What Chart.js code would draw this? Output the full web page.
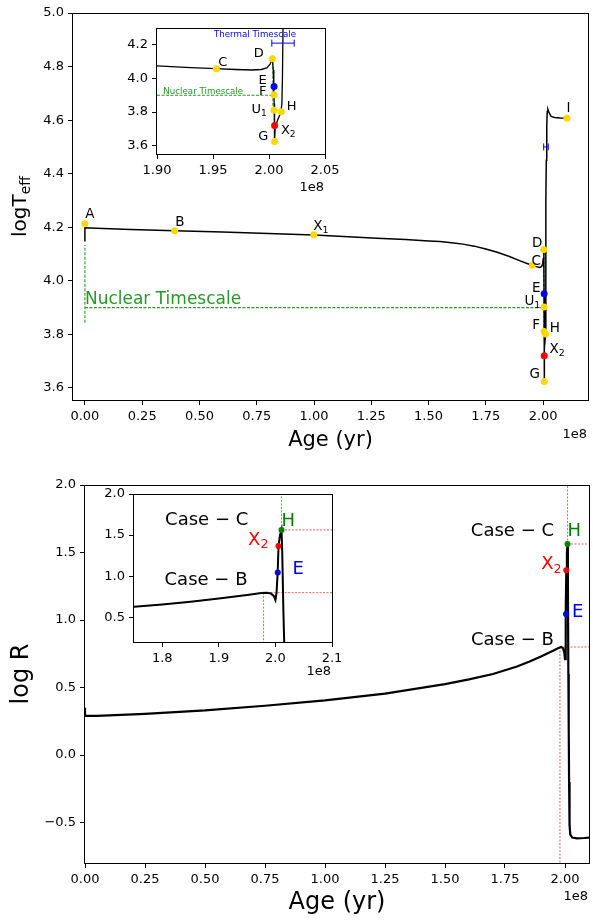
<!DOCTYPE html>
<html>
<head>
<meta charset="utf-8">
<script src="https://cdn.jsdelivr.net/npm/chart.js@4.4.0/dist/chart.umd.min.js"></script>
<style>
  html, body { margin: 0; padding: 0; background: #fff; }
  #wrap { position: relative; width: 593px; height: 920px; }
  #wrap canvas { position: absolute; left: 0; top: 0; }
</style>
</head>
<body>
<div id="wrap">
  <canvas id="teffMain" width="593" height="920"></canvas>
  <canvas id="teffInset" width="593" height="920"></canvas>
  <canvas id="radMain" width="593" height="920"></canvas>
  <canvas id="radInset" width="593" height="920"></canvas>
</div>
<script>
// ages are in units of 1e8 yr (the axis offset)
const trackAge = [0, 0, 0.05, 0.2, 0.392, 0.6, 0.8, 1.0, 1.15, 1.275, 1.4, 1.45, 1.5, 1.55, 1.6, 1.65, 1.7, 1.75, 1.8, 1.85,
  1.9, 1.93, 1.953, 1.97, 1.985, 1.993, 1.998, 2.001, 2.003, 2.0038, 2.0043, 2.0046, 2.0049, 2.005,
  2.0055, 2.0075, 2.0105, 2.0115, 2.012, 2.0125, 2.014, 2.016, 2.018, 2.021, 2.026, 2.035, 2.05, 2.075, 2.104];
const trackLogTeff = [4.147, 4.198, 4.196, 4.192, 4.187, 4.182, 4.177, 4.171, 4.165, 4.159, 4.154, 4.1515, 4.149, 4.1465, 4.1425, 4.137, 4.1295, 4.119, 4.1065, 4.0915,
  4.0745, 4.0645, 4.058, 4.053, 4.050, 4.053, 4.063, 4.085, 4.115, 4.05, 3.95, 3.85, 3.72, 3.624,
  3.70, 3.75, 3.795, 3.85, 4.0, 4.3, 4.45, 4.58, 4.632, 4.64, 4.628, 4.614, 4.610, 4.608, 4.607];

const radAge = [0, 0, 0.05, 0.25, 0.5, 0.75, 1.0, 1.25, 1.5, 1.6, 1.7, 1.75, 1.8, 1.85, 1.9, 1.95, 1.975, 1.985,
  1.992, 1.997, 2.0, 2.002, 2.004, 2.0055, 2.008, 2.0107, 2.012, 2.014, 2.0155, 2.017, 2.019, 2.022,
  2.03, 2.05, 2.08, 2.11];
const radLogR = [0.35, 0.29, 0.29, 0.305, 0.33, 0.365, 0.405, 0.455, 0.525, 0.56, 0.60, 0.628, 0.656, 0.69, 0.73, 0.772, 0.795, 0.80,
  0.79, 0.76, 0.71, 0.80, 1.05, 1.37, 1.50, 1.563, 1.3, 0.6, 0.2, -0.2, -0.52, -0.59,
  -0.612, -0.618, -0.615, -0.61];

// marked stages on the Teff track: A B X1 C D E U1 F H X2 G I
const stageAge = [0, 0.392, 0.999, 1.953, 2.003, 2.0045, 2.0045, 2.0045, 2.011, 2.005, 2.005, 2.104];
const stageLogTeff = [4.213, 4.187, 4.172, 4.058, 4.117, 3.952, 3.902, 3.811, 3.801, 3.720, 3.624, 4.607];
const stageColor = ['gold', 'gold', 'gold', 'gold', 'gold', 'blue', 'gold', 'gold', 'gold', 'red', 'gold', 'gold'];

// marked stages on the radius track: E X2 H
const radStageAge = [2.0041, 2.0053, 2.0107];
const radStageLogR = [1.044, 1.368, 1.563];
const radStageColor = ['blue', 'red', 'green'];

// mass transfer cases (onset age, log R)
const caseBAge = 1.979, caseBLogR = 0.80;
const caseCAge = 2.0107, caseCLogR = 1.563;

// nuclear and thermal timescale markers
const nucLogTeff = 3.90, nucStart = 0, nucEnd = 2.0035;
const nucStartBar = [3.843, 4.134], nucEndBar = [3.81, 4.12];
const thermAge = 2.0125, thermHalf = 0.01;
const thermLogTeffMain = 4.50, thermLogTeffInset = 4.21;

const xTicksTop = [0, 0.25, 0.5, 0.75, 1.0, 1.25, 1.5, 1.75, 2.0];
const yTicksTop = [3.6, 3.8, 4.0, 4.2, 4.4, 4.6, 4.8, 5.0];
const xTicksTopInset = [1.90, 1.95, 2.00, 2.05];
const yTicksTopInset = [3.6, 3.8, 4.0, 4.2];
const yTicksRad = [-0.5, 0, 0.5, 1.0, 1.5, 2.0];
const xTicksRadInset = [1.8, 1.9, 2.0, 2.1];
const yTicksRadInset = [0.5, 1.0, 1.5, 2.0];

const W = 593, H = 920;
const FAM = "'DejaVu Sans'";
const NUC_GREEN = '#2b962b';
const CASE_RED = '#ff5a5a';
Chart.defaults.font.family = 'DejaVu Sans';

const pts = (xs, ys) => xs.map((x, i) => ({ x, y: ys[i] }));
const fix = d => v => (v < 0 ? '\u2212' : '') + Math.abs(v).toFixed(d);

function curve(data, color, width, dash) {
  return { data, showLine: true, borderColor: color, backgroundColor: color, borderWidth: width,
    borderDash: dash || [], pointRadius: 0, tension: 0 };
}
function markers(data, colors, r) {
  return { data, showLine: false, pointRadius: r, pointBackgroundColor: colors,
    pointBorderColor: colors, pointBorderWidth: 0 };
}
function errorBar(x, half, y, color) {
  return [
    { data: [{ x: x - half, y }, { x: x + half, y }], showLine: false, pointStyle: 'line', rotation: 90,
      pointRadius: 3.5, pointBorderColor: color, pointBorderWidth: 1 },
    curve([{ x: x - half, y }, { x: x + half, y }], color, 1)
  ];
}
function nuclearLines(xMin) {
  const d = [3, 1.5];
  return [
    curve([{ x: Math.max(nucStart, xMin), y: nucLogTeff }, { x: nucEnd, y: nucLogTeff }], NUC_GREEN, 1.1, d),
    curve([{ x: nucStart, y: nucStartBar[0] }, { x: nucStart, y: nucStartBar[1] }], NUC_GREEN, 1.1, d),
    curve([{ x: nucEnd, y: nucEndBar[0] }, { x: nucEnd, y: nucEndBar[1] }], NUC_GREEN, 1.1, d)
  ];
}
function caseLines(xMax, yMin, yMax) {
  const d = [2, 1.5];
  return [
    curve([{ x: caseCAge, y: caseCLogR }, { x: caseCAge, y: yMax }], CASE_RED, 1, d),
    curve([{ x: caseCAge, y: caseCLogR }, { x: xMax, y: caseCLogR }], CASE_RED, 1, d),
    curve([{ x: caseBAge, y: caseBLogR }, { x: caseBAge, y: yMin }], CASE_RED, 1, d),
    curve([{ x: caseBAge, y: caseBLogR }, { x: xMax, y: caseBLogR }], CASE_RED, 1, d)
  ];
}

// text with an optional subscript, aligned around (x, y)
function drawRich(ctx, main, sub, x, y, size, color, align) {
  const mf = size + 'px ' + FAM, sf = (size * 0.7) + 'px ' + FAM;
  ctx.font = mf; const w1 = ctx.measureText(main).width;
  ctx.font = sf; const w2 = sub ? ctx.measureText(sub).width : 0;
  const tot = w1 + w2;
  let x0 = align === 'left' ? x : align === 'right' ? x - tot : x - tot / 2;
  ctx.fillStyle = color; ctx.textBaseline = 'middle'; ctx.textAlign = 'left';
  ctx.font = mf; ctx.fillText(main, x0, y);
  if (sub) { ctx.font = sf; ctx.fillText(sub, x0 + w1, y + size * 0.28); }
}

function axis(min, max, ticks, fmt, dir, size, fs) {
  return {
    type: 'linear', min, max, position: dir === 'x' ? 'bottom' : 'left',
    grid: { drawOnChartArea: false, drawTicks: true, tickLength: 5, color: '#000', lineWidth: 1 },
    border: { display: false },
    ticks: { autoSkip: false, maxRotation: 0, padding: 4, color: '#000',
      font: { family: 'DejaVu Sans', size: fs }, callback: fmt },
    afterBuildTicks: s => { s.ticks = ticks.map(v => ({ value: v })); },
    afterFit: s => {
      if (dir === 'x') { s.height = size; s.paddingLeft = 0; s.paddingRight = 0; }
      else { s.width = size; s.paddingTop = 0; s.paddingBottom = 0; }
    }
  };
}

function panel(id, o) {
  const yW = 44, xH = 34;
  const [L, R, T, B] = o.area;
  const deco = {
    id: 'deco',
    beforeDraw(chart) {
      if (!o.inset) return;
      const a = chart.chartArea, ctx = chart.ctx;
      ctx.save(); ctx.fillStyle = '#fff';
      ctx.fillRect(a.left, a.top, a.right - a.left, a.bottom - a.top);
      ctx.restore();
    },
    afterDatasetsDraw(chart) {
      const a = chart.chartArea, ctx = chart.ctx;
      ctx.save(); ctx.strokeStyle = '#000'; ctx.lineWidth = 1;
      ctx.strokeRect(Math.round(a.left) - 0.5, Math.round(a.top) + 0.5,
        Math.round(a.right - a.left) + 1, Math.round(a.bottom - a.top));
      ctx.restore();
    },
    afterDraw(chart) {
      const ctx = chart.ctx, a = chart.chartArea, sx = chart.scales.x, sy = chart.scales.y;
      ctx.save();
      (o.notes || []).forEach(n => {
        drawRich(ctx, n.t, n.s, sx.getPixelForValue(n.x), sy.getPixelForValue(n.y),
          n.size, n.color || '#000', n.align || 'center');
      });
      // offset text for the age axis
      drawRich(ctx, '1e8', null, a.right - 1, a.bottom + o.offY, 13, '#000', 'right');
      if (o.xTitle) drawRich(ctx, o.xTitle.t, null, (a.left + a.right) / 2, o.xTitle.y, o.xTitle.size, '#000', 'center');
      if (o.yTitle) {
        ctx.save();
        ctx.translate(o.yTitle.x, (a.top + a.bottom) / 2);
        ctx.rotate(-Math.PI / 2);
        drawRich(ctx, o.yTitle.t, o.yTitle.s, 0, 0, o.yTitle.size, '#000', 'center');
        ctx.restore();
      }
      ctx.restore();
    }
  };
  return new Chart(document.getElementById(id), {
    type: 'scatter',
    data: { datasets: o.datasets },
    options: {
      responsive: false, animation: false, devicePixelRatio: 1, events: [],
      layout: { padding: { left: L - yW, top: T, right: W - R, bottom: H - B - xH } },
      plugins: { legend: { display: false }, tooltip: { enabled: false } },
      scales: {
        x: axis(o.xMin, o.xMax, o.xTicks, o.xFmt, 'x', xH, 13),
        y: axis(o.yMin, o.yMax, o.yTicks, o.yFmt, 'y', yW, 13)
      }
    },
    plugins: [deco]
  });
}

// effective temperature, full track
panel('teffMain', {
  area: [73, 593, 13, 400], xMin: -0.052, xMax: 2.196, yMin: 3.555, yMax: 5.0,
  xTicks: xTicksTop, yTicks: yTicksTop, xFmt: fix(2), yFmt: fix(1), offY: 35,
  datasets: [
    markers(pts(stageAge, stageLogTeff), stageColor, 3.5),
    ...errorBar(thermAge, thermHalf, thermLogTeffMain, 'blue'),
    curve(pts(trackAge, trackLogTeff), '#000', 1.5),
    ...nuclearLines(-1)
  ],
  notes: [
    { t: 'A', x: 0.022, y: 4.246, size: 13.5 },
    { t: 'B', x: 0.414, y: 4.219, size: 13.5 },
    { t: 'X', s: '1', x: 1.030, y: 4.202, size: 13.5 },
    { t: 'C', x: 1.970, y: 4.072, size: 13.5 },
    { t: 'D', x: 1.974, y: 4.140, size: 13.5 },
    { t: 'E', x: 1.970, y: 3.972, size: 13.5 },
    { t: 'U', s: '1', x: 1.953, y: 3.922, size: 13.5 },
    { t: 'F', x: 1.970, y: 3.832, size: 13.5 },
    { t: 'H', x: 2.051, y: 3.823, size: 13.5 },
    { t: 'X', s: '2', x: 2.061, y: 3.742, size: 13.5 },
    { t: 'G', x: 1.963, y: 3.649, size: 13.5 },
    { t: 'I', x: 2.111, y: 4.644, size: 13.5 },
    { t: 'Nuclear Timescale', x: 0.0, y: 3.929, size: 17, color: NUC_GREEN, align: 'left' }
  ],
  xTitle: { t: 'Age (yr)', y: 441, size: 21 },
  yTitle: { t: 'logT', s: 'eff', x: 21, size: 20 }
});

// effective temperature, zoom on the end of the main sequence
panel('teffInset', {
  inset: true,
  area: [157, 325, 28, 154], xMin: 1.90, xMax: 2.05, yMin: 3.55, yMax: 4.30,
  xTicks: xTicksTopInset, yTicks: yTicksTopInset, xFmt: fix(2), yFmt: fix(1), offY: 34,
  datasets: [
    markers(pts(stageAge, stageLogTeff), stageColor, 3.5),
    ...errorBar(thermAge, thermHalf, thermLogTeffInset, 'blue'),
    curve(pts(trackAge, trackLogTeff), '#000', 1.3),
    ...nuclearLines(1.90)
  ],
  notes: [
    { t: 'C', x: 1.9587, y: 4.093, size: 13 },
    { t: 'D', x: 1.9908, y: 4.149, size: 13 },
    { t: 'E', x: 1.9944, y: 3.985, size: 13 },
    { t: 'F', x: 1.9944, y: 3.921, size: 13 },
    { t: 'U', s: '1', x: 1.9913, y: 3.812, size: 13 },
    { t: 'H', x: 2.0203, y: 3.832, size: 13 },
    { t: 'X', s: '2', x: 2.0172, y: 3.689, size: 13 },
    { t: 'G', x: 1.9949, y: 3.653, size: 13 },
    { t: 'Thermal Timescale', x: 1.9875, y: 4.258, size: 8.7, color: 'blue' },
    { t: 'Nuclear Timescale', x: 1.9056, y: 3.919, size: 8.7, color: NUC_GREEN, align: 'left' }
  ]
});

// radius, full track
panel('radMain', {
  area: [85, 593, 485, 863], xMin: 0, xMax: 2.10, yMin: -0.8, yMax: 2.0,
  xTicks: xTicksTop, yTicks: yTicksRad, xFmt: fix(2), yFmt: fix(1), offY: 34,
  datasets: [
    markers(pts(radStageAge, radStageLogR), radStageColor, 3),
    curve(pts(radAge, radLogR), '#000', 2.2),
    ...caseLines(2.10, -0.8, 2.0)
  ],
  notes: [
    { t: 'Case \u2212 C', x: 1.781, y: 1.654, size: 18 },
    { t: 'Case \u2212 B', x: 1.781, y: 0.852, size: 18 },
    { t: 'H', x: 2.039, y: 1.654, size: 18, color: 'green' },
    { t: 'X', s: '2', x: 1.943, y: 1.413, size: 18, color: 'red' },
    { t: 'E', x: 2.053, y: 1.057, size: 18, color: 'blue' }
  ],
  xTitle: { t: 'Age (yr)', y: 903, size: 24 },
  yTitle: { t: 'log R', x: 22, size: 24 }
});

// radius, zoom on the mass transfer cases
panel('radInset', {
  inset: true,
  area: [134, 332, 494, 642], xMin: 1.75, xMax: 2.10, yMin: 0.2, yMax: 2.0,
  xTicks: xTicksRadInset, yTicks: yTicksRadInset, xFmt: fix(1), yFmt: fix(1), offY: 30,
  datasets: [
    markers(pts(radStageAge, radStageLogR), radStageColor, 3),
    curve(pts(radAge, radLogR), '#000', 2),
    ...caseLines(2.10, 0.2, 2.0)
  ],
  notes: [
    { t: 'Case \u2212 C', x: 1.8785, y: 1.684, size: 18 },
    { t: 'Case \u2212 B', x: 1.8773, y: 0.954, size: 18 },
    { t: 'H', x: 2.0228, y: 1.663, size: 18, color: 'green' },
    { t: 'X', s: '2', x: 1.9697, y: 1.440, size: 18, color: 'red' },
    { t: 'E', x: 2.0404, y: 1.088, size: 18, color: 'blue' }
  ]
});
</script>
</body>
</html>
